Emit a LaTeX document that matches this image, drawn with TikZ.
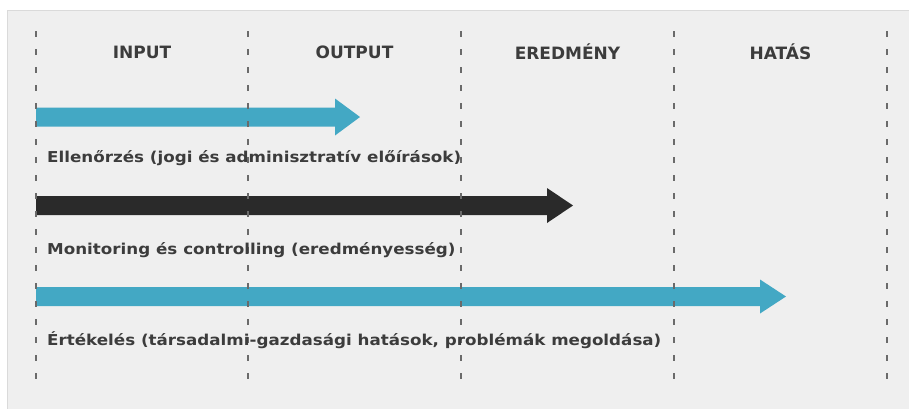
\documentclass[tikz,border=0pt]{standalone}
\usepackage{fontspec}
\setmainfont{DejaVu Sans}
\newfontfamily\widefont[FakeStretch=1.115]{DejaVu Sans}
\definecolor{bgray}{HTML}{EFEFEF}
\definecolor{edge}{HTML}{DADADA}
\definecolor{blueA}{HTML}{43A8C4}
\definecolor{darkA}{HTML}{2A2A2A}
\definecolor{txt}{HTML}{3C3C3C}
\definecolor{dashc}{HTML}{6A6A6A}
\tikzset{
  head/.style={font=\bfseries\fontsize{17}{20}\selectfont, text=txt, inner sep=0pt},
  label/.style={font=\widefont\bfseries\fontsize{15}{18}\selectfont, text=txt, inner sep=0pt, anchor=west},
  divider/.style={draw=dashc, line width=1.1pt, dash pattern=on 6pt off 12pt},
}
\begin{document}
\begin{tikzpicture}[x=1pt,y=-1pt]
\useasboundingbox (0,0) rectangle (909,408);
\fill[white] (0,0) rectangle (909,408);
\filldraw[fill=bgray, draw=edge, line width=1pt] (7,10) rectangle (915,415);

% arrows
\fill[blueA] (36,107.5) -- (335,107.5) -- (335,98.5) -- (360,117) -- (335,135.5) -- (335,126.5) -- (36,126.5) -- cycle;
\fill[darkA] (36,196) -- (547,196) -- (547,188) -- (573,205.5) -- (547,223) -- (547,215) -- (36,215) -- cycle;
\fill[blueA] (36,287) -- (760,287) -- (760,279.5) -- (786,296.5) -- (760,313.5) -- (760,306) -- (36,306) -- cycle;

% dividers
\foreach \x/\n in {36/d0,248/d1,461/d2,674/d3,887/d4} {
  \coordinate (\n t) at (\x,31);
  \coordinate (\n b) at (\x,388);
  \draw[divider] (\n t) -- (\n b);
}

% headers
\node[head] (h1) at (142,52) {INPUT};
\node[head] (h2) at (354.5,52) {OUTPUT};
\node[head] (h3) at (567.5,52) {EREDMÉNY};
\node[head] (h4) at (780.5,52) {HATÁS};

% labels
\node[label] (l1) at (47,158) {Ellenőrzés (jogi és adminisztratív előírások)};
\node[label] (l2) at (47,250) {Monitoring és controlling (eredményesség)};
\node[label] (l3) at (47,340) {Értékelés (társadalmi-gazdasági hatások, problémák megoldása)};
\end{tikzpicture}
\end{document}
